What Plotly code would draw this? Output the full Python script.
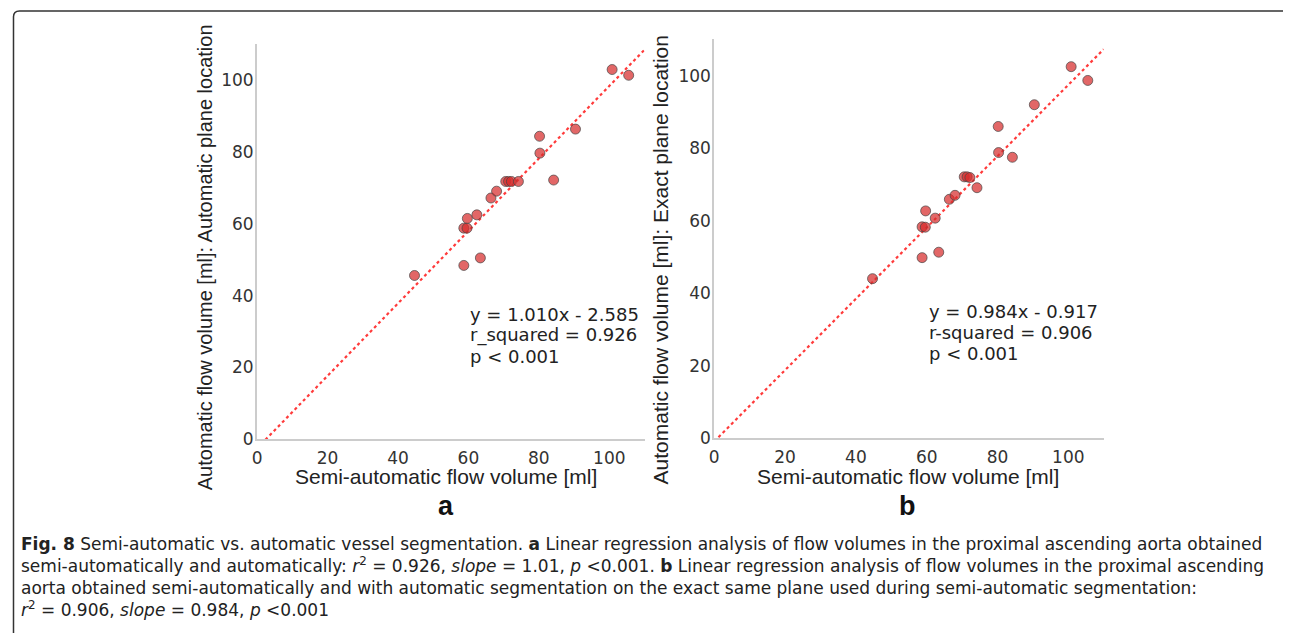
import plotly.graph_objects as go

# semi-automatic flow volume [ml] (shared x for both panels)
semi_auto = [44.7, 58.7, 63.4, 58.7, 59.6, 59.7, 62.4, 66.4, 68.0, 70.6,
             71.4, 72.2, 74.2, 84.2, 80.3, 80.2, 90.4, 100.8, 105.5]
# panel a: automatic plane location
auto_plane = [45.6, 48.4, 50.5, 58.8, 58.8, 61.5, 62.5, 67.2, 69.1, 71.8,
              71.8, 71.8, 71.8, 72.2, 79.7, 84.4, 86.4, 103.0, 101.4]
# panel b: exact plane location
exact_plane = [44.0, 49.8, 51.3, 58.3, 58.2, 62.7, 60.7, 65.9, 67.0, 72.1,
               72.1, 71.9, 69.1, 77.5, 78.8, 86.0, 92.0, 102.5, 98.7]

fit_a = (1.010, -2.585)
fit_b = (0.984, -0.917)
fit_x = [0, 110]

ticks = [0, 20, 40, 60, 80, 100]
stats_a = ["y = 1.010x - 2.585", "r_squared = 0.926", "p < 0.001"]
stats_b = ["y = 0.984x - 0.917", "r-squared = 0.906", "p < 0.001"]

caption = [
    "<b>Fig. 8</b> Semi-automatic vs. automatic vessel segmentation. <b>a</b> Linear regression analysis of flow volumes in the proximal ascending aorta obtained",
    "semi-automatically and automatically: <i>r</i><sup>2</sup> = 0.926, <i>slope</i> = 1.01, <i>p</i> &lt;0.001. <b>b</b> Linear regression analysis of flow volumes in the proximal ascending",
    "aorta obtained semi-automatically and with automatic segmentation on the exact same plane used during semi-automatic segmentation:",
    "<i>r</i><sup>2</sup> = 0.906, <i>slope</i> = 0.984, <i>p</i> &lt;0.001",
]

# page body adds an 8px offset, so the figure is drawn 8px smaller
OFF = 8
W, H = 1291 - OFF, 643 - OFF
px = lambda v: (v - OFF) / W
py = lambda v: 1 - (v - OFF) / H

MPL = "DejaVu Sans"
SANS = "Liberation Sans"
fig = go.Figure()

for i, (yv, fit) in enumerate([(auto_plane, fit_a), (exact_plane, fit_b)]):
    xa = "x" if i == 0 else "x2"
    ya = "y" if i == 0 else "y2"
    fig.add_trace(go.Scatter(
        x=fit_x, y=[fit[0] * v + fit[1] for v in fit_x], mode="lines",
        line=dict(color="#ff3b3b", width=2.2, dash="dot"),
        xaxis=xa, yaxis=ya, showlegend=False))
    fig.add_trace(go.Scatter(
        x=semi_auto, y=yv, mode="markers",
        marker=dict(size=10, color="rgba(215,45,45,0.72)",
                    line=dict(color="rgba(70,70,70,0.7)", width=1)),
        xaxis=xa, yaxis=ya, showlegend=False))

axis_common = dict(range=[0, 110], tickvals=ticks, showgrid=False, zeroline=False,
                   showline=True, linecolor="#cccccc", linewidth=2, ticks="",
                   tickfont=dict(family=MPL, size=17, color="#333333"))

fig.update_layout(
    width=W, height=H, margin=dict(l=0, r=0, t=0, b=0),
    plot_bgcolor="white", paper_bgcolor="white",
    xaxis=dict(domain=[px(253), px(642)], anchor="y", ticklabelstandoff=2, **axis_common),
    yaxis=dict(domain=[py(446), py(45)], anchor="x", ticklabelstandoff=-2, **axis_common),
    xaxis2=dict(domain=[px(712), px(1103)], anchor="y2", ticklabelstandoff=2, **axis_common),
    yaxis2=dict(domain=[py(445), py(40)], anchor="x2", ticklabelstandoff=-2, **axis_common),
)

ann = []
def add_text(text, x, y, size, family=MPL, color="#222222", xanchor="center", angle=0):
    # small shift so the visible glyphs sit where they do in the reference
    if angle:
        x -= 4
    else:
        y += 6
    ann.append(dict(text=text, x=px(x), y=py(y), xanchor=xanchor, yanchor="middle",
                    textangle=angle, xref="paper", yref="paper", showarrow=False,
                    align="left", font=dict(family=family, size=size, color=color)))

for cx, ytitle, ysize, ycx, ycy, label, stats, sx, sy in [
        (443, "Automatic flow volume [ml]: Automatic plane location", 20, 205, 261,
         "a", stats_a, 465, 313),
        (906, "Automatic flow volume [ml]: Exact plane location", 21, 663, 264,
         "b", stats_b, 926, 310)]:
    add_text("Semi-automatic flow volume [ml]", cx, 478, 21, family=SANS)
    add_text(ytitle, ycx, ycy, ysize, family=SANS, angle=-90)
    add_text("<b>" + label + "</b>", cx, 508, 27, family=SANS, color="#111111")
    for k, s in enumerate(stats):
        add_text(s, sx, sy + 21.5 * k, 18, xanchor="left")

# caption as one block of text
add_text("<br>".join(caption), 14, 580, 17, family="DejaVu Sans", xanchor="left")

fig.update_layout(annotations=ann)

# figure frame: left and top border with rounded corner
r = 6
fig.add_shape(type="path", xref="paper", yref="paper",
              path=f"M {px(8.5)},{py(643)} L {px(8.5)},{py(11 + r)} Q {px(8.5)},{py(11)} {px(8.5 + r)},{py(11)} L {px(1289)},{py(11)}",
              line=dict(color="#333333", width=1.5))

fig.write_html("out.html")
